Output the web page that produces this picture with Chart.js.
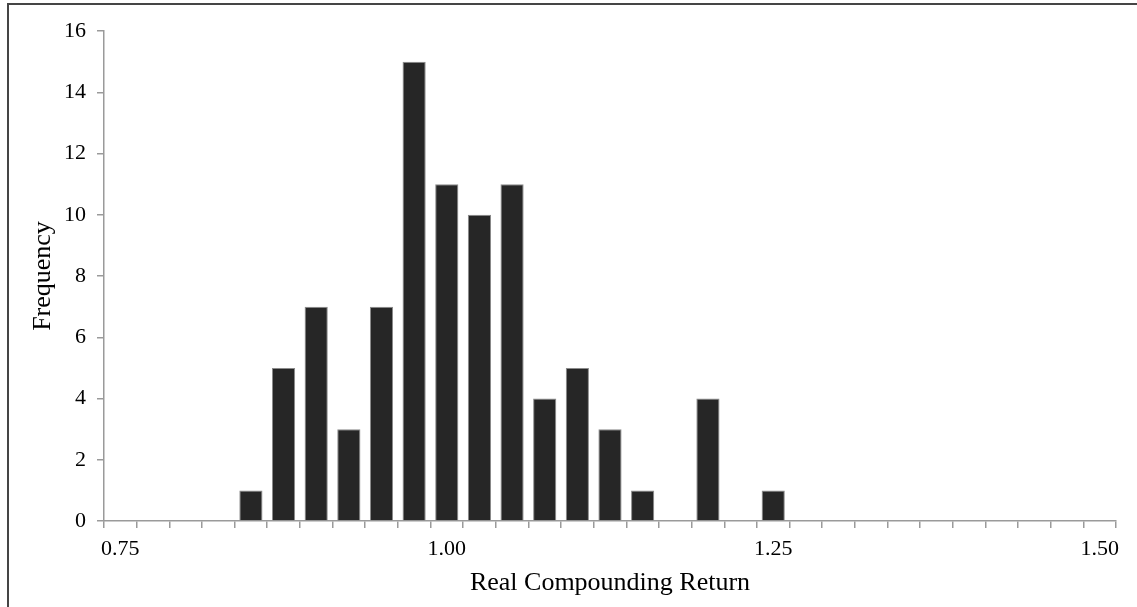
<!DOCTYPE html>
<html>
<head>
<meta charset="utf-8">
<script src="https://cdn.jsdelivr.net/npm/chart.js@4/dist/chart.umd.min.js"></script>
<style>
  html, body { margin: 0; padding: 0; background: #fff; overflow: hidden; }
  #wrap { position: relative; width: 1137px; height: 607px; }
  #frame { position: absolute; left: 7px; top: 3px; width: 2000px; height: 2000px;
           border: 2px solid #454545; pointer-events: none; }
</style>
</head>
<body>
<div id="wrap">
  <canvas id="histChart" width="1137" height="607"></canvas>
  <div id="frame"></div>
</div>
<script>
// Histogram bins (category axis) and counts
const bins = [0.75, 0.775, 0.80, 0.825, 0.85, 0.875, 0.90, 0.925, 0.95, 0.975,
              1.00, 1.025, 1.05, 1.075, 1.10, 1.125, 1.15, 1.175, 1.20, 1.225,
              1.25, 1.275, 1.30, 1.325, 1.35, 1.375, 1.40, 1.425, 1.45, 1.475, 1.50];
const frequency = [0, 0, 0, 0, 1, 5, 7, 3, 7, 15,
                   11, 10, 11, 4, 5, 3, 1, 0, 4, 0,
                   1, 0, 0, 0, 0, 0, 0, 0, 0, 0, 0];
const tickLabels = ["0.75", "1.00", "1.25", "1.50"];

const serif = "'Liberation Serif', 'DejaVu Serif', serif";
const axisGray = "#9a9a9a";

const ctx = document.getElementById("histChart").getContext("2d");

new Chart(ctx, {
    type: "bar",
    data: {
        labels: bins,
        datasets: [{
            label: "Frequency",
            data: frequency,
            backgroundColor: "#262626",
            borderColor: "#8a8a8a",
            borderWidth: 1,
            barPercentage: 0.71,
            categoryPercentage: 1.0
        }]
    },
    options: {
        responsive: false,
        animation: false,
        layout: { padding: { left: 0, top: 31, right: 21, bottom: 0 } },
        plugins: {
            legend: { display: false },
            tooltip: { enabled: false }
        },
        scales: {
            x: {
                offset: true,
                grid: {
                    offset: true,
                    drawOnChartArea: false,
                    drawTicks: true,
                    tickLength: 7,
                    color: axisGray,
                    lineWidth: 1.5
                },
                border: { color: axisGray, width: 1.5 },
                ticks: {
                    autoSkip: false,
                    maxRotation: 0,
                    padding: 8,
                    color: "#000",
                    font: { family: serif, size: 22 },
                    callback: (value, index) => {
                        const t = tickLabels.find(s => Math.abs(parseFloat(s) - bins[index]) < 1e-9);
                        return t || "";
                    }
                },
                title: {
                    display: true,
                    text: "Real Compounding Return",
                    color: "#000",
                    font: { family: serif, size: 26 },
                    padding: { top: 4, bottom: 8 }
                },
                afterFit: (scale) => { scale.height = 86; }
            },
            y: {
                min: 0,
                max: 16,
                grid: {
                    drawOnChartArea: false,
                    drawTicks: true,
                    tickLength: 7,
                    color: axisGray,
                    lineWidth: 1.5
                },
                border: { color: axisGray, width: 1.5 },
                ticks: {
                    stepSize: 2,
                    padding: 11,
                    color: "#000",
                    font: { family: serif, size: 22 }
                },
                title: {
                    display: true,
                    text: "Frequency",
                    color: "#000",
                    font: { family: serif, size: 26 },
                    padding: { top: 28, bottom: 0 }
                },
                afterFit: (scale) => { scale.width = 104; }
            }
        }
    }
});
</script>
</body>
</html>
